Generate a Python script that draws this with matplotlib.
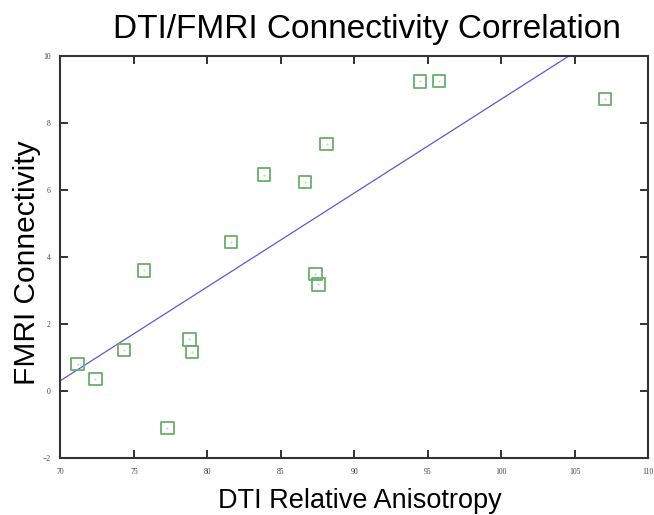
import matplotlib
matplotlib.use("Agg")
import matplotlib.pyplot as plt
import numpy as np

# DTI relative anisotropy vs FMRI connectivity
dti_ra = [71.17, 72.37, 74.34, 75.70, 77.27, 78.77, 78.95, 81.59,
          83.85, 86.66, 88.12, 87.35, 87.55, 94.49, 95.77, 107.05]
fmri_conn = [0.80, 0.35, 1.22, 3.60, -1.10, 1.54, 1.16, 4.45,
             6.46, 6.23, 7.38, 3.49, 3.18, 9.24, 9.26, 8.71]

# fitted line as drawn in the reference
fit_slope = 0.280
fit_intercept = -19.29

x_ticks = [70, 75, 80, 85, 90, 95, 100, 105, 110]
y_ticks = [-2, 0, 2, 4, 6, 8, 10]

fig = plt.figure(figsize=(6.54, 5.15), dpi=100)
ax = fig.add_axes([0.0925, 0.1107, 0.8985, 0.7806])

xs = np.array([70, 110])
ax.plot(xs, fit_slope * xs + fit_intercept, color="#5a5ad8", lw=0.9, zorder=2)

ax.scatter(dti_ra, fmri_conn, marker="s", s=80, facecolors="none",
           edgecolors="#6aaf6a", linewidths=1.3, zorder=3)
ax.scatter(dti_ra, fmri_conn, marker=".", s=1, color="#b8d8b8", zorder=4)

ax.set_xlim(70, 110)
ax.set_ylim(-2, 10)
ax.set_xticks(x_ticks)
ax.set_yticks(y_ticks)

for sp in ax.spines.values():
    sp.set_color("#333333")
    sp.set_linewidth(1.5)

ax.tick_params(direction="in", top=True, right=True, length=6, width=1.3,
               color="#222222", labelsize=5.5, pad=7)
for lab in ax.get_xticklabels() + ax.get_yticklabels():
    lab.set_family("Liberation Serif")
    lab.set_color("#444444")

fig.text(0.561, 0.942, "DTI/FMRI Connectivity Correlation", ha="center", va="center",
         fontsize=24, family="Liberation Sans")
fig.text(0.55, 0.028, "DTI Relative Anisotropy", ha="center", va="center",
         fontsize=19.5, family="Liberation Sans")
fig.text(0.041, 0.489, "FMRI Connectivity", ha="center", va="center", rotation=90,
         fontsize=21.5, family="Liberation Sans")

fig.savefig("out.png", dpi=100)
